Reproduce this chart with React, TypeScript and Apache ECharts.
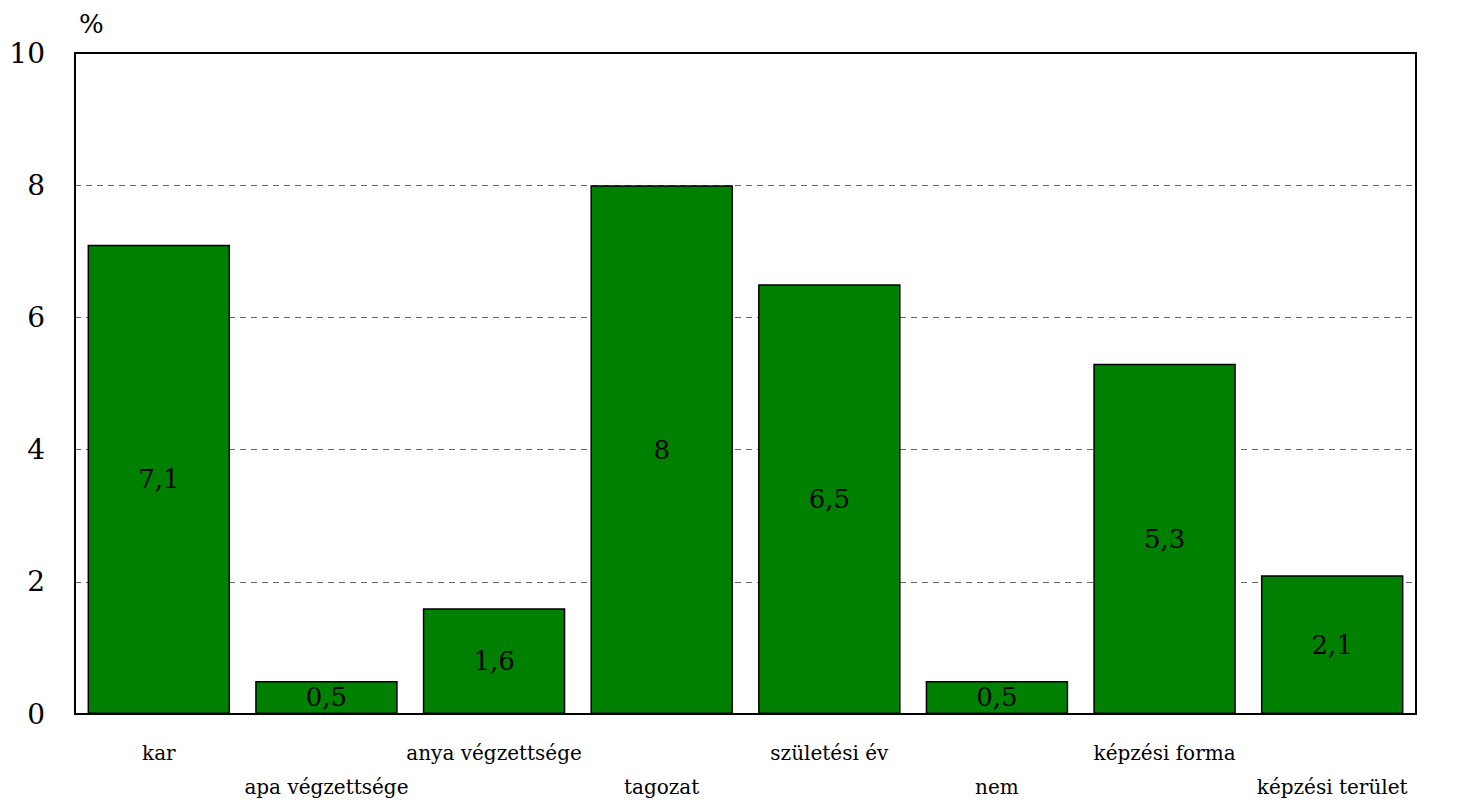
import React, { useEffect, useRef } from "react";
import * as echarts from "echarts";

const categories = ["kar", "apa végzettsége", "anya végzettsége", "tagozat", "születési év", "nem", "képzési forma", "képzési terület"];
const values = [7.1, 0.5, 1.6, 8, 6.5, 0.5, 5.3, 2.1];
const yTicks = { min: 0, max: 10, interval: 2 };
const unitLabel = "%";

const FONT = "DejaVu Serif";

export default function App() {
  const ref = useRef<HTMLDivElement>(null);
  useEffect(() => {
    document.body.style.margin = "0";
    const chart = echarts.init(ref.current!, null, { renderer: "svg" });
    chart.setOption({
      animation: false,
      textStyle: { fontFamily: FONT },
      grid: {
        left: 75, right: 58, top: 53, bottom: 86,
        outerBoundsMode: "none",
        containLabel: false,
        show: true, borderColor: "#000", borderWidth: 2, backgroundColor: "transparent",
      },
      xAxis: {
        type: "category",
        data: categories,
        axisLine: { lineStyle: { color: "#000", width: 2 } },
        axisTick: { show: false },
        axisLabel: {
          interval: 0,
          color: "#000",
          fontFamily: FONT,
          fontSize: 20,
          lineHeight: 34,
          margin: 22,
          formatter: (v: string, i: number) => (i % 2 === 1 ? "\n" + v : v),
        },
      },
      yAxis: {
        type: "value",
        min: yTicks.min, max: yTicks.max, interval: yTicks.interval,
        name: unitLabel,
        nameLocation: "end",
        nameGap: 16,
        nameTextStyle: { color: "#000", fontFamily: FONT, fontSize: 26, align: "left", padding: [0, 0, 0, 4] },
        axisLine: { show: true, lineStyle: { color: "#000", width: 2 } },
        axisTick: { show: false },
        axisLabel: { color: "#000", fontFamily: FONT, fontSize: 28, margin: 30 },
        splitLine: { show: true, showMinLine: false, showMaxLine: false, lineStyle: { color: "#666", type: [6, 5], width: 1 } },
      },
      series: [
        {
          type: "bar",
          data: values,
          barCategoryGap: "15%",
          itemStyle: { color: "#008000", borderColor: "#000", borderWidth: 1.5 },
          label: {
            show: true,
            position: "inside",
            color: "#000",
            fontFamily: FONT,
            fontSize: 26,
            formatter: (p: any) => String(p.value).replace(".", ","),
          },
        },
      ],
    });
    return () => chart.dispose();
  }, []);
  return <div ref={ref} style={{ width: 1474, height: 800 }} />;
}
